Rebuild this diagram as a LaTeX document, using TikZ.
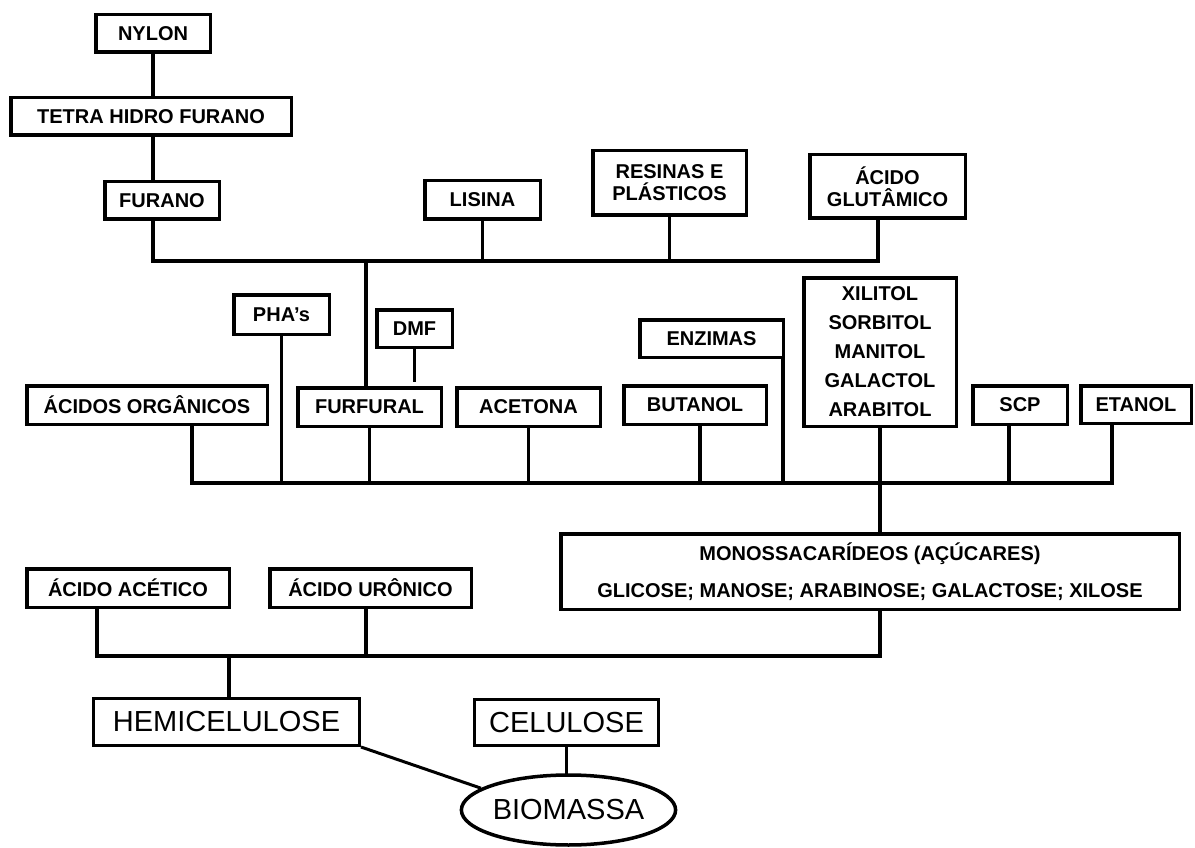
\documentclass[tikz,border=0pt]{standalone}
\usepackage{fontspec}
\setmainfont{Liberation Sans}
\usetikzlibrary{shapes.geometric,calc}
\begin{document}
\begin{tikzpicture}[x=1pt,y=-1pt,
  box/.style={draw, line width=3.5pt, inner sep=0pt, align=center,
              font=\fontsize{20}{22}\selectfont\bfseries},
  bigbox/.style={draw, line width=3pt, inner sep=0pt,
                 font=\fontsize{29}{32}\selectfont},
  link/.style={line width=3.2pt, line cap=rect}]
\fill[white] (0,0) rectangle (1195,848);
\useasboundingbox (0,0) rectangle (1195,848);

% --- furan branch and upper products
\node[box, minimum width=114.5, minimum height=37.5] (nylon)   at (153,33.5)  {NYLON};
\node[box, minimum width=280.5, minimum height=37.5] (thf)     at (151,116.5) {TETRA HIDRO FURANO};
\node[box, minimum width=114.5, minimum height=37.5] (furano)  at (162,200.5) {FURANO};
\node[box, minimum width=115.5, minimum height=38.5] (lisina)  at (482.5,200)  {LISINA};
\node[box, minimum width=153.5, minimum height=64.5] (resinas) at (669.5,183)  {RESINAS E\\PLÁSTICOS};
\node[box, minimum width=155.5, minimum height=63.5] (glut)    at (887.5,186.5) {ÁCIDO\\GLUTÂMICO};

% --- products from sugars
\node[box, minimum width=95.5,  minimum height=39.5] (pha)      at (281.5,314.5) {PHA’s};
\node[box, minimum width=75.5,  minimum height=37.5] (dmf)      at (414.5,328.5) {DMF};
\node[box, minimum width=240.5, minimum height=38.5] (acidos)   at (147,405)     {ÁCIDOS ORGÂNICOS};
\node[box, minimum width=143.5, minimum height=38.5] (furfural) at (369.5,407)   {FURFURAL};
\node[box, minimum width=143.5, minimum height=38.5] (acetona)  at (528.5,407)   {ACETONA};
\node[box, minimum width=142.5, minimum height=38.5] (butanol)  at (695,405)     {BUTANOL};
\node[box, minimum width=143.5, minimum height=37.5] (enzimas)  at (711.5,338.5) {ENZIMAS};
\node[box, minimum width=152.5, minimum height=148.5,
      font=\fontsize{20}{29}\selectfont\bfseries] (xilitol) at (880,352)
      {XILITOL\\SORBITOL\\MANITOL\\GALACTOL\\ARABITOL};
\node[box, minimum width=94.5,  minimum height=38.5] (scp)      at (1020,405)    {SCP};
\node[box, minimum width=110.5, minimum height=37.5] (etanol)   at (1136,404.5)  {ETANOL};

% --- hemicellulose fractions
\node[box, minimum width=618.5, minimum height=75.5,
      font=\fontsize{20}{37}\selectfont\bfseries] (monos) at (870,571.5)
      {MONOSSACARÍDEOS (AÇÚCARES)\\GLICOSE; MANOSE; ARABINOSE; GALACTOSE; XILOSE};
\node[box, minimum width=202.5, minimum height=38.5] (acetico) at (128,588)   {ÁCIDO ACÉTICO};
\node[box, minimum width=201.5, minimum height=38.5] (uronico) at (370.5,588) {ÁCIDO URÔNICO};

% --- biomass
\node[bigbox, minimum width=266, minimum height=47] (hemi)     at (226.5,722) {HEMICELULOSE};
\node[bigbox, minimum width=184, minimum height=46] (celulose) at (566.5,722.5) {CELULOSE};
\node[draw, ellipse, line width=3.5pt, inner sep=0pt, minimum width=194, minimum height=70,
      font=\fontsize{29}{32}\selectfont] (biomassa) at (568.5,810) {BIOMASSA};

% --- upper bus
\coordinate (tL) at (153,261);
\coordinate (tR) at (878,261);
\coordinate (tF) at (366,261);
\draw[link] (nylon.south) -- (nylon.south |- thf.north);
\draw[link] (thf.south -| tL) -- (furano.north -| tL);
\draw[link] (furano.south -| tL) -- (tL) -- (tR) -- (glut.south -| tR);
\draw[link] (lisina.south) -- (lisina.south |- tL);
\draw[link] (resinas.south) -- (resinas.south |- tL);
\draw[link] (tF) -- (furfural.north -| tF);
\coordinate (dmfEnd) at (414.5,380);
\draw[link] (dmf.south) -- (dmfEnd);

% --- middle bus
\coordinate (mL) at (192,483);
\coordinate (mR) at (1112,483);
\coordinate (mB) at (700,483);
\coordinate (mE) at (783,483);
\coordinate (mS) at (1009,483);
\draw[link] (acidos.south -| mL) -- (mL) -- (mR) -- (etanol.south -| mR);
\draw[link] (pha.south) -- (pha.south |- mL);
\draw[link] (furfural.south) -- (furfural.south |- mL);
\draw[link] (acetona.south) -- (acetona.south |- mL);
\draw[link] (butanol.south -| mB) -- (mB);
\draw[link] (enzimas.south -| mE) -- (mE);
\draw[link] (scp.south -| mS) -- (mS);
\draw[link] (xilitol.south) -- (xilitol.south |- monos.north);

% --- lower bus
\coordinate (hL) at (97,656);
\coordinate (hR) at (880,656);
\coordinate (hU) at (366,656);
\coordinate (hH) at (229,656);
\draw[link] (acetico.south -| hL) -- (hL) -- (hR) -- (monos.south -| hR);
\draw[link] (uronico.south -| hU) -- (hU);
\draw[link] (hH) -- (hemi.north -| hH);

% --- biomass links
\draw[link] (celulose.south) -- (celulose.south |- biomassa.north);
\draw[line width=3pt] (hemi.south east) -- (biomassa.166);
\end{tikzpicture}
\end{document}
